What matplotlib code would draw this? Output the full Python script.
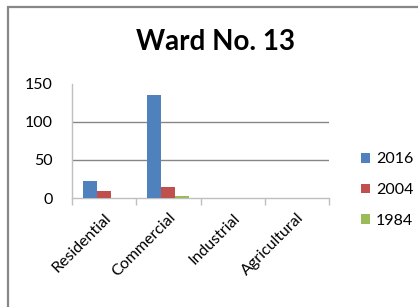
import numpy as np
import matplotlib
matplotlib.use("Agg")
import matplotlib.pyplot as plt
from matplotlib.patches import Patch, Rectangle

plt.rcParams['font.family'] = ['Lato', 'DejaVu Sans']

# Data
categories = ['Residential', 'Commercial', 'Industrial', 'Agricultural']
years = ['2016', '2004', '1984']
values_2016 = [22, 135, 0, 0]
values_2004 = [9, 15, 0, 0]
values_1984 = [0, 3, 0, 0]
series = [values_2016, values_2004, values_1984]
colors = ['#4F81BD', '#C0504D', '#9BBB59']
y_ticks = [0, 50, 100, 150]

fig = plt.figure(figsize=(4.18, 3.07), dpi=100)
ax = fig.add_axes([72 / 418, 1 - 198 / 307, 257 / 418, 114 / 307])

# outer chart frame (only left and top edges fall inside the image)
fig.patches.append(Rectangle((8 / 418, -0.1), 1.2, 1.1 - 7 / 307,
                             transform=fig.transFigure, fill=False,
                             edgecolor='#878787', linewidth=1.6))

x = np.arange(len(categories))
width = 0.218
for i, (vals, col) in enumerate(zip(series, colors)):
    ax.bar(x + (i - 1) * width - 0.007, vals, width, color=col, zorder=3)

ax.set_xlim(-0.5, len(categories) - 0.5)
ax.set_ylim(0, 150)
ax.set_yticks(y_ticks)
ax.set_yticklabels([str(t) for t in y_ticks], fontsize=11.5)
ax.tick_params(axis='y', length=0, pad=14)

ax.set_xticks(x)
ax.set_xticklabels(categories, rotation=45, ha='right', rotation_mode='anchor',
                   fontsize=11.5)
ax.set_xticks(np.arange(-0.5, len(categories)), minor=True)
ax.tick_params(axis='x', which='major', length=0, pad=9)
ax.tick_params(axis='x', which='minor', length=5, color='#BFBFBF', width=1)

ax.yaxis.grid(True, color='#868686', linewidth=1, zorder=0)
ax.get_ygridlines()[-1].set_visible(False)
ax.get_ygridlines()[0].set_visible(False)

for side in ['top', 'right']:
    ax.spines[side].set_visible(False)
for side in ['left', 'bottom']:
    ax.spines[side].set_color('#BFBFBF')
    ax.spines[side].set_linewidth(1)

fig.text(216 / 418, 1 - 42 / 307, 'Ward No. 13', ha='center', va='center',
         fontsize=20, fontweight='bold')

handles = [Patch(facecolor=c, edgecolor='none') for c in colors]
fig.legend(handles, years, loc='upper left', bbox_to_anchor=(355 / 418, 1 - 146 / 307),
           frameon=False, fontsize=11.5, handlelength=0.55, handleheight=0.55,
           handletextpad=0.35, labelspacing=1.05, borderaxespad=0)

fig.savefig('out.png', dpi=100, facecolor='white')
